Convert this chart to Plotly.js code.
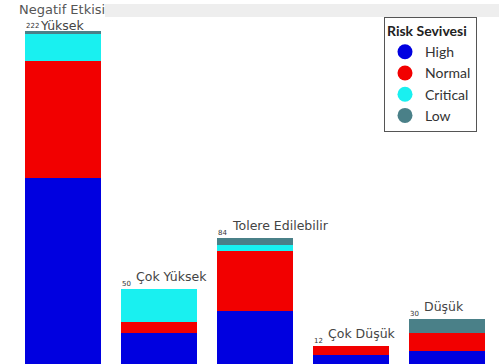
<!DOCTYPE html>
<html>
<head>
<meta charset="utf-8">
<script src="https://cdn.plot.ly/plotly-3.0.1.min.js"></script>
<style>html,body{margin:0;padding:0;overflow:hidden;background:#fff}#chart{width:499px;height:364px}</style>
</head>
<body>
<div id="chart"></div>
<script>
const categories = ['Yüksek', 'Çok Yüksek', 'Tolere Edilebilir', 'Çok Düşük', 'Düşük'];
const totalLabels = [222, 50, 84, 12, 30];
const high = [124, 21, 35, 6, 9];
const normal = [78, 7, 40, 6, 12];
const critical = [18, 22, 4, 0, 0];
const low = [2, 0, 5, 0, 9];
const seriesNames = ['High', 'Normal', 'Critical', 'Low'];
const seriesColors = ['#0000e0', '#f20000', '#19f0f0', '#4a8088'];

const seriesValues = [high, normal, critical, low];
const totals = categories.map((c, i) => seriesValues.reduce((s, arr) => s + arr[i], 0));
const maxTotal = Math.max.apply(null, totals);

const traces = [];
seriesValues.forEach((vals, k) => {
  traces.push({
    type: 'bar', x: categories, y: vals, name: seriesNames[k],
    marker: {color: seriesColors[k], line: {width: 0}},
    showlegend: false, hoverinfo: 'skip'
  });
});
seriesValues.forEach((vals, k) => {
  traces.push({
    type: 'scatter', mode: 'markers', x: [null], y: [null], name: seriesNames[k],
    marker: {color: seriesColors[k], size: 15, symbol: 'circle'},
    showlegend: true
  });
});

const labelFont = 'DejaVu Sans, Verdana, sans-serif';
const annotations = [];
categories.forEach((c, i) => {
  const top = totals[i] === maxTotal;
  annotations.push({
    x: c, y: totals[i], xref: 'x', yref: 'y', text: String(totalLabels[i]),
    showarrow: false, xanchor: 'left', yanchor: 'bottom', xshift: -39, yshift: -1,
    font: {family: labelFont, size: 7, color: '#333'}
  });
  annotations.push({
    x: c, y: totals[i], xref: 'x', yref: 'y', text: c,
    showarrow: false, xanchor: 'left', yanchor: 'bottom', xshift: -25, yshift: top ? -4 : 3,
    font: {family: labelFont, size: 12.5, color: '#444'}
  });
});

const layout = {
  width: 499, height: 364,
  margin: {l: 15, r: 4, t: 20, b: 0},
  paper_bgcolor: '#ffffff', plot_bgcolor: '#ffffff',
  barmode: 'stack', bargap: 0.21,
  title: {text: 'Negatif Etkisi', x: 19/499, xref: 'container', xanchor: 'left',
          y: 1 - 9/364, yref: 'container', yanchor: 'middle',
          font: {family: labelFont, size: 13, color: '#555'}},
  xaxis: {visible: false, showgrid: false, zeroline: false},
  yaxis: {visible: false, showgrid: false, zeroline: false, range: [0, 229.3]},
  showlegend: true,
  legend: {
    x: (384-15)/480, xanchor: 'left', y: (364-17)/344, yanchor: 'top',
    traceorder: 'normal',
    bgcolor: '#ffffff', bordercolor: '#555', borderwidth: 1,
    title: {text: '<b>Risk Sevivesi</b>', font: {family: 'Lato, Open Sans, sans-serif', size: 14, color: '#222'}},
    font: {family: 'Lato, Open Sans, sans-serif', size: 14, color: '#333'},
    tracegroupgap: 0, itemsizing: 'trace'
  },
  shapes: [
    {type: 'rect', xref: 'paper', yref: 'paper', x0: (105-15)/480, x1: (499-15)/480,
     y0: (364-17)/344, y1: (364-4)/344, fillcolor: '#eeeeee', line: {width: 0}, layer: 'below'}
  ],
  annotations: annotations
};

Plotly.newPlot('chart', traces, layout, {displayModeBar: false, staticPlot: true});
</script>
</body>
</html>
